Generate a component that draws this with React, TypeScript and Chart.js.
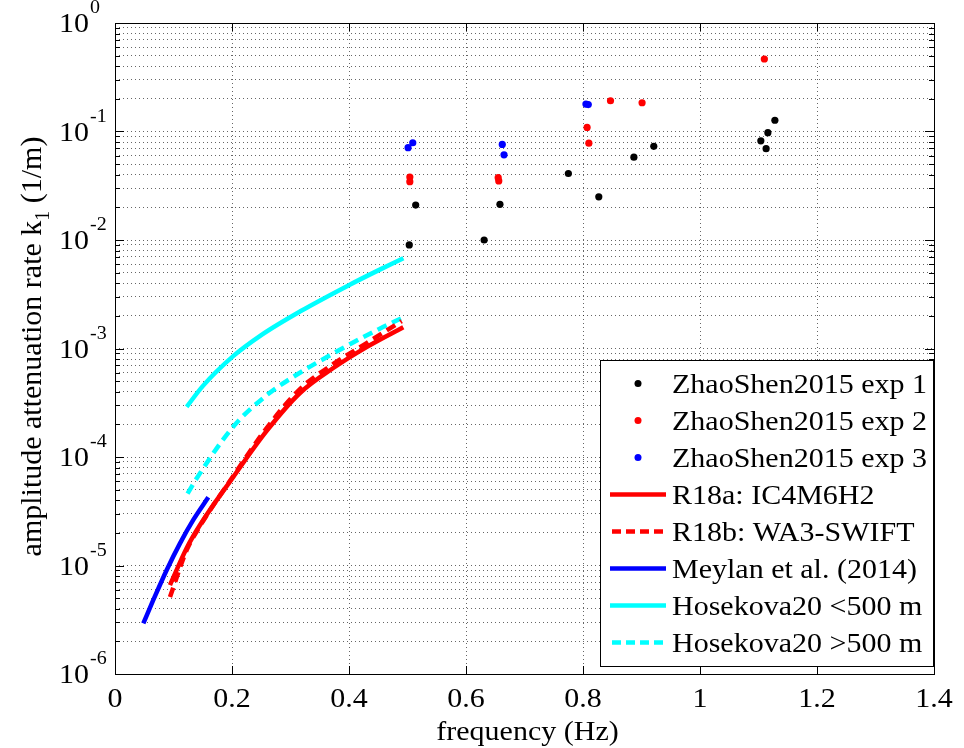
import { useEffect, useRef } from 'react';
import { Chart, registerables } from 'chart.js';

Chart.register(...registerables);

// ---- data ----
const exp1Freq = [0.503, 0.514, 0.631, 0.658, 0.775, 0.827, 0.887, 0.921, 1.104, 1.113, 1.116, 1.128];
const exp1K = [0.0090, 0.021, 0.0100, 0.0213, 0.041, 0.025, 0.058, 0.073, 0.082, 0.0695, 0.0975, 0.127];

const exp2Freq = [0.504, 0.504, 0.655, 0.656, 0.807, 0.810, 0.847, 0.901, 1.110];
const exp2K = [0.038, 0.0345, 0.0375, 0.035, 0.109, 0.078, 0.192, 0.184, 0.466];

const exp3Freq = [0.501, 0.509, 0.662, 0.665, 0.805, 0.809];
const exp3K = [0.071, 0.0788, 0.076, 0.061, 0.179, 0.177];

const r18aFreq = [0.094, 0.1226, 0.1453, 0.2022, 0.2593, 0.3162, 0.3732, 0.4301, 0.4928];
const r18aK = [6.6e-6, 1.45e-5, 2.36e-5, 6.55e-5, 1.74e-4, 3.89e-4, 6.61e-4, 1.03e-3, 1.57e-3];

const r18bFreq = [0.094, 0.1226, 0.1453, 0.2022, 0.2593, 0.3162, 0.3732, 0.4301, 0.490];
const r18bK = [5.13e-6, 1.39e-5, 2.31e-5, 6.68e-5, 1.85e-4, 4.23e-4, 7.2e-4, 1.12e-3, 1.79e-3];

const meylanFreq = [0.0484, 0.0655, 0.0884, 0.1111, 0.1338, 0.1595];
const meylanK = [2.93e-6, 4.81e-6, 9.1e-6, 1.6e-5, 2.63e-5, 4.25e-5];

const hosNearFreq = [0.1225, 0.15, 0.202, 0.25, 0.316, 0.402, 0.45, 0.493];
const hosNearK = [2.9e-4, 4.5e-4, 8.5e-4, 1.33e-3, 2.19e-3, 3.89e-3, 5.25e-3, 6.8e-3];

const hosFarFreq = [0.124, 0.14, 0.202, 0.259, 0.3, 0.373, 0.45, 0.493];
const hosFarK = [4.6e-5, 6.4e-5, 1.9e-4, 3.7e-4, 5.28e-4, 9.0e-4, 1.5e-3, 1.94e-3];

const xTickValues = [0, 0.2, 0.4, 0.6, 0.8, 1.0, 1.2, 1.4];
const xTickLabels = ['0', '0.2', '0.4', '0.6', '0.8', '1', '1.2', '1.4'];
const yDecadeExponents = [0, -1, -2, -3, -4, -5, -6];

const xTitle = 'frequency (Hz)';
const yTitleMain = 'amplitude attenuation rate k';
const yTitleSub = '1';
const yTitleEnd = ' (1/m)';

const legendLabels = [
  'ZhaoShen2015 exp 1',
  'ZhaoShen2015 exp 2',
  'ZhaoShen2015 exp 3',
  'R18a: IC4M6H2',
  'R18b: WA3-SWIFT',
  'Meylan et al. (2014)',
  'Hosekova20 <500 m',
  'Hosekova20 >500 m',
];

const zip = (xs: number[], ys: number[]) => xs.map((x, i) => ({ x, y: ys[i] }));

const FONT = '"Liberation Serif", "Times New Roman", serif';
const SY = 0.9;

function yGridValues() {
  const v: number[] = [];
  for (let e = -6; e < 0; e++) {
    for (let m = 1; m <= 9; m++) v.push(m * Math.pow(10, e));
  }
  v.push(1);
  return v;
}

function squashedText(ctx: CanvasRenderingContext2D, text: string, x: number, y: number, align: CanvasTextAlign) {
  ctx.save();
  ctx.translate(x, y);
  ctx.scale(1, SY);
  ctx.textAlign = align;
  ctx.textBaseline = 'alphabetic';
  ctx.fillText(text, 0, 0);
  ctx.restore();
}

const decorPlugin = {
  id: 'matlabDecor',
  afterDraw(chart: any) {
    const ctx: CanvasRenderingContext2D = chart.ctx;
    const { left, right, top, bottom } = chart.chartArea;
    const xs = chart.scales.x;
    const ys = chart.scales.y;
    ctx.save();

    // ticks (inside)
    ctx.strokeStyle = '#000';
    ctx.lineWidth = 1;
    ctx.setLineDash([]);
    ctx.beginPath();
    xTickValues.forEach((v) => {
      const px = Math.round(xs.getPixelForValue(v)) + 0.5;
      ctx.moveTo(px, bottom);
      ctx.lineTo(px, bottom - 8);
      ctx.moveTo(px, top);
      ctx.lineTo(px, top + 8);
    });
    yGridValues().forEach((v) => {
      const py = Math.round(ys.getPixelForValue(v)) + 0.5;
      const isMajor = Math.abs(Math.log10(v) - Math.round(Math.log10(v))) < 1e-9;
      const len = isMajor ? 9 : 5;
      ctx.moveTo(left, py);
      ctx.lineTo(left + len, py);
      ctx.moveTo(right, py);
      ctx.lineTo(right - len, py);
    });
    ctx.stroke();

    // box
    ctx.strokeRect(Math.round(left) + 0.5, Math.round(top) + 0.5, Math.round(right - left), Math.round(bottom - top));

    // x tick labels
    ctx.fillStyle = '#000';
    ctx.font = `30px ${FONT}`;
    xTickValues.forEach((v, i) => {
      squashedText(ctx, xTickLabels[i], xs.getPixelForValue(v), 707, 'center');
    });

    // y tick labels 10^n
    yDecadeExponents.forEach((e) => {
      const py = ys.getPixelForValue(Math.pow(10, e));
      ctx.font = `30px ${FONT}`;
      squashedText(ctx, '10', 89, py + 9, 'right');
      ctx.font = `20px ${FONT}`;
      squashedText(ctx, String(e), 90, py - 10, 'left');
    });

    // x title
    ctx.font = `30px ${FONT}`;
    squashedText(ctx, xTitle, (left + right) / 2 + 3, 740, 'center');

    // y title (rotated, with subscript)
    ctx.save();
    ctx.translate(41, (top + bottom) / 2 - 2);
    ctx.rotate(-Math.PI / 2);
    ctx.textAlign = 'left';
    ctx.textBaseline = 'alphabetic';
    ctx.font = `30px ${FONT}`;
    const w1 = ctx.measureText(yTitleMain).width;
    const w3 = ctx.measureText(yTitleEnd).width;
    ctx.font = `20px ${FONT}`;
    const w2 = ctx.measureText(yTitleSub).width;
    const total = w1 + w2 + w3;
    let cx = -total / 2;
    ctx.font = `30px ${FONT}`;
    ctx.fillText(yTitleMain, cx, 0);
    cx += w1;
    ctx.font = `20px ${FONT}`;
    ctx.fillText(yTitleSub, cx, 8);
    cx += w2;
    ctx.font = `30px ${FONT}`;
    ctx.fillText(yTitleEnd, cx, 0);
    ctx.restore();

    // legend
    const bx = 600, by = 360, bw = 333, bh = 306;
    ctx.fillStyle = '#fff';
    ctx.fillRect(bx, by, bw, bh);
    ctx.strokeStyle = '#000';
    ctx.lineWidth = 1;
    ctx.strokeRect(bx + 0.5, by + 0.5, bw, bh);
    chart.data.datasets.forEach((ds: any, i: number) => {
      const ry = 383.5 + i * 37;
      const dashed = ds.borderDash && ds.borderDash.length;
      if (ds.showLine) {
        ctx.strokeStyle = ds.borderColor;
        ctx.lineWidth = 4.5;
        ctx.setLineDash(dashed ? [9, 5] : []);
        ctx.beginPath();
        ctx.moveTo(dashed ? 612 : 610, ry);
        ctx.lineTo(666, ry);
        ctx.stroke();
        ctx.setLineDash([]);
      } else {
        ctx.fillStyle = ds.pointBackgroundColor;
        ctx.beginPath();
        ctx.arc(638, ry, 3.5, 0, Math.PI * 2);
        ctx.fill();
      }
      ctx.fillStyle = '#000';
      ctx.font = `30px ${FONT}`;
      squashedText(ctx, legendLabels[i], 672, ry + 9.5, 'left');
    });

    ctx.restore();
  },
};

export default function App() {
  const ref = useRef<HTMLCanvasElement | null>(null);

  useEffect(() => {
    if (!ref.current) return;
    const scatterDs = (label: string, xs: number[], ys: number[], color: string) => ({
      label,
      data: zip(xs, ys),
      showLine: false,
      pointRadius: 3.6,
      pointBackgroundColor: color,
      pointBorderColor: color,
      pointBorderWidth: 0,
      borderColor: color,
      backgroundColor: color,
    });
    const lineDs = (label: string, xs: number[], ys: number[], color: string, dashed: boolean) => ({
      label,
      data: zip(xs, ys),
      showLine: true,
      pointRadius: 0,
      borderColor: color,
      backgroundColor: color,
      borderWidth: 4.5,
      borderDash: dashed ? [10, 6] : [],
      cubicInterpolationMode: 'monotone',
      borderCapStyle: 'butt',
      fill: false,
    });

    const chart = new Chart(ref.current, {
      type: 'scatter',
      data: {
        datasets: [
          scatterDs(legendLabels[0], exp1Freq, exp1K, '#000000'),
          scatterDs(legendLabels[1], exp2Freq, exp2K, '#ff0000'),
          scatterDs(legendLabels[2], exp3Freq, exp3K, '#0000ff'),
          lineDs(legendLabels[3], r18aFreq, r18aK, '#ff0000', false),
          lineDs(legendLabels[4], r18bFreq, r18bK, '#ff0000', true),
          lineDs(legendLabels[5], meylanFreq, meylanK, '#0000ff', false),
          lineDs(legendLabels[6], hosNearFreq, hosNearK, '#00ffff', false),
          lineDs(legendLabels[7], hosFarFreq, hosFarK, '#00ffff', true),
        ] as any,
      },
      options: {
        animation: false,
        responsive: false,
        devicePixelRatio: 1,
        layout: { padding: { top: 23, right: 30, left: 0, bottom: 0 } },
        plugins: { legend: { display: false }, tooltip: { enabled: false } },
        scales: {
          x: {
            type: 'linear',
            min: 0,
            max: 1.4,
            afterBuildTicks: (s: any) => {
              s.ticks = xTickValues.map((v) => ({ value: v }));
            },
            afterFit: (s: any) => {
              s.height = 74;
            },
            ticks: { display: false },
            grid: { color: 'rgba(0,0,0,0.6)', lineWidth: 1, drawTicks: false },
            border: { display: false, dash: [1, 3] },
          },
          y: {
            type: 'logarithmic',
            min: 1e-6,
            max: 1,
            afterBuildTicks: (s: any) => {
              s.ticks = yGridValues().map((v) => ({ value: v }));
            },
            afterFit: (s: any) => {
              s.width = 115;
            },
            ticks: { display: false },
            grid: { color: 'rgba(0,0,0,0.6)', lineWidth: 1, drawTicks: false },
            border: { display: false, dash: [1, 3] },
          },
        },
      },
      plugins: [decorPlugin],
    });
    return () => chart.destroy();
  }, []);

  return (
    <div style={{ position: 'absolute', left: 0, top: 0, width: 964, height: 748, background: '#fff' }}>
      <canvas ref={ref} width={964} height={748} style={{ width: 964, height: 748, display: 'block' }} />
    </div>
  );
}
